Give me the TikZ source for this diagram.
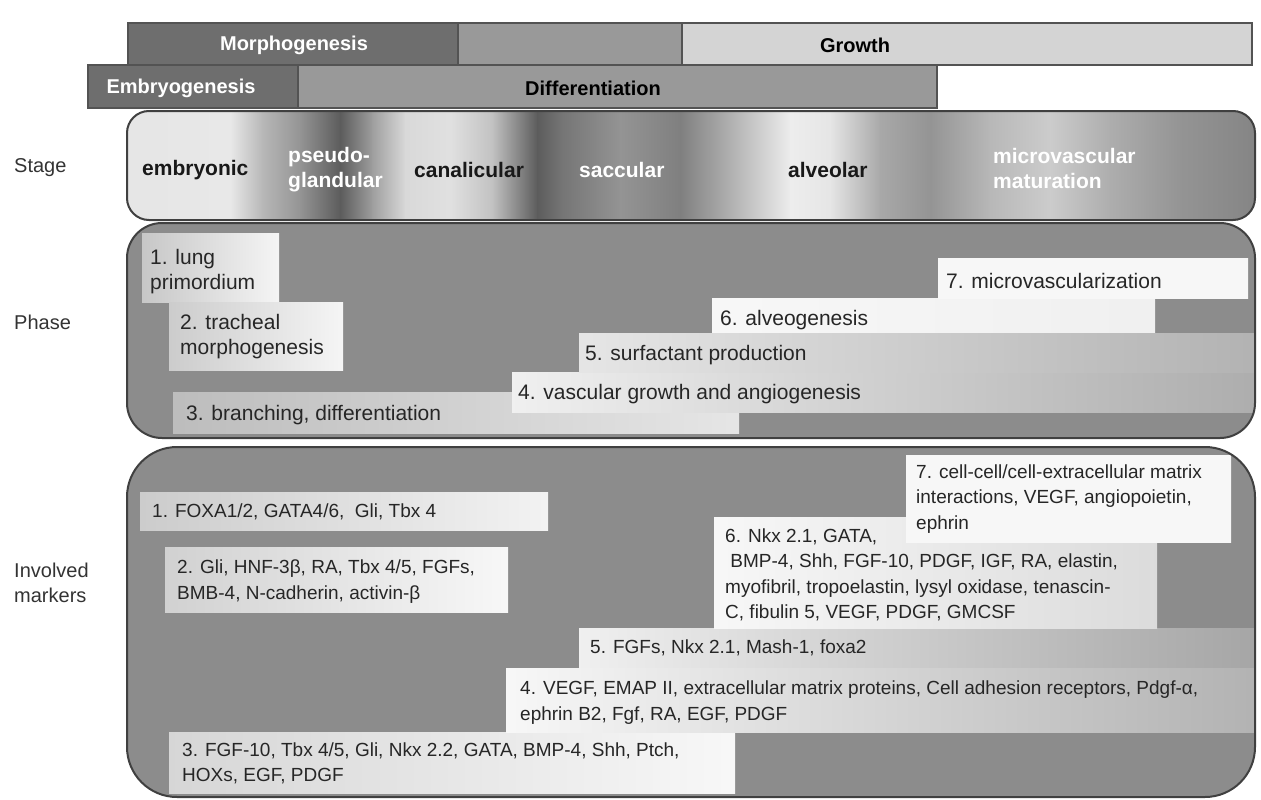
\documentclass[tikz,border=0pt]{standalone}
\usepackage{fontspec}
\setmainfont{Liberation Sans}
\definecolor{edge}{gray}{0.25}
\definecolor{panelgray}{gray}{0.55}
\definecolor{dkbar}{gray}{0.43}
\definecolor{mdbar}{gray}{0.6}
\definecolor{ltbar}{gray}{0.83}
\tikzset{
 sidelbl/.style={font=\fontsize{20}{25}\selectfont, text=black!80, anchor=west, inner sep=0, align=left},
 bartxt/.style={font=\bfseries\fontsize{20}{24}\selectfont, inner sep=0},
 stagetxt/.style={font=\bfseries\fontsize{21}{25}\selectfont, inner sep=0, anchor=west, align=left},
 phasetxt/.style={font=\fontsize{21}{25}\selectfont, inner sep=0, anchor=west, align=left, text=black!85},
 marktxt/.style={font=\fontsize{19}{25.5}\selectfont, inner sep=0, anchor=west, align=left, text=black!85},
 panel/.style={draw=edge, line width=2pt},
 barframe/.style={draw=edge!90, line width=1.2pt},
}
\begin{document}
\begin{tikzpicture}[x=1pt,y=-1pt]
\useasboundingbox (0,0) rectangle (1261,800);

% ---------- top bars ----------
\fill[dkbar] (128,23) rectangle (458,65);
\fill[mdbar] (458,23) rectangle (682,65);
\fill[ltbar] (682,23) rectangle (1252,65);
\draw[barframe] (128,23) rectangle (1252,65);
\draw[barframe] (458,23) -- (458,65);
\draw[barframe] (682,23) -- (682,65);
\fill[dkbar] (88,65) rectangle (298,108);
\fill[mdbar] (298,65) rectangle (937,108);
\draw[barframe] (88,65) rectangle (937,108);
\draw[barframe] (298,65) -- (298,108);
\node[bartxt, text=white] (morph) at (294,45) {Morphogenesis};
\node[bartxt, text=black] (growth) at (855,45) {Growth};
\node[bartxt, text=white] (embryo) at (181,88) {Embryogenesis};
\node[bartxt, text=black] (diff) at (593,88) {Differentiation};

% ---------- side labels ----------
\node[sidelbl] (lstage) at (14,168) {Stage};
\node[sidelbl] (lphase) at (14,322) {Phase};
\node[sidelbl] (lmark) at (14,583) {Involved\\markers};

% ---------- stage panel ----------
\begin{scope}
\clip[rounded corners=22] (127,111) rectangle (1255,220);
\foreach \xa/\ca/\xb/\cb in {127/90/230/91, 230/91/262/72, 262/72/300/58, 300/58/340/36, 340/36/372/62, 372/62/405/85, 405/85/450/88, 450/88/492/76, 492/76/537/36, 537/36/562/46, 562/46/620/58, 620/58/680/50, 680/50/732/70, 732/70/790/93, 790/93/830/90, 830/90/880/66, 880/66/930/58, 930/58/990/72, 990/72/1050/80, 1050/80/1110/68, 1110/68/1180/58, 1180/58/1256/52}
  \shade[left color=white!\ca!black, right color=white!\cb!black] (\xa,111) rectangle (\xb+0.8,220);
\end{scope}
\draw[panel, rounded corners=22] (127,111) rectangle (1255,220);
\node[stagetxt, text=black!90] (s1) at (142,170) {embryonic};
\node[stagetxt, text=white] (s2) at (288,170) {pseudo-\\glandular};
\node[stagetxt, text=black!90] (s3) at (414,170) {canalicular};
\node[stagetxt, text=white] (s4) at (579,170) {saccular};
\node[stagetxt, text=black!90] (s5) at (788,170) {alveolar};
\node[stagetxt, text=white] (s6) at (993,168) {microvascular\\maturation};

% ---------- phase panel ----------
\begin{scope}
\clip[rounded corners=35] (127,223) rectangle (1255,438);
\fill[panelgray] (127,223) rectangle (1255,438);
\shade[left color=white!78!black, right color=white!96!black] (142,233) rectangle (279,302);
\shade[left color=white!80!black, right color=white!96!black] (169,302) rectangle (343,370);
\shade[left color=white!74!black, middle color=white!86!black, right color=white!90!black] (173,392) rectangle (739,433);
\shade[left color=white!94!black, middle color=white!82!black, right color=white!68!black] (512,372) rectangle (1256,412);
\shade[left color=white!90!black, middle color=white!88!black, right color=white!70!black] (579,333) rectangle (1256,372);
\shade[left color=white!97!black, middle color=white!72!black, right color=white!94!black] (712,298) rectangle (1155,332);
\shade[left color=white!97!black, middle color=white!82!black, right color=white!97!black] (938,258) rectangle (1248,298);
\end{scope}
\draw[panel, rounded corners=35] (127,223) rectangle (1255,438);
\node[phasetxt] (p1) at (150,271.5) {1. lung\\primordium};
\node[phasetxt] (p2) at (180,336.5) {2. tracheal\\morphogenesis};
\node[phasetxt] (p3) at (186,415) {3. branching, differentiation};
\node[phasetxt] (p4) at (518,394) {4. vascular growth and angiogenesis};
\node[phasetxt] (p5) at (585,355) {5. surfactant production};
\node[phasetxt] (p6) at (720,320) {6. alveogenesis};
\node[phasetxt] (p7) at (946,281) {7. microvascularization};

% ---------- markers panel ----------
\begin{scope}
\clip[rounded corners=50] (127,447) rectangle (1255,797);
\fill[panelgray] (127,447) rectangle (1255,797);
\shade[left color=white!80!black, right color=white!95!black] (140,492) rectangle (548,530);
\shade[left color=white!82!black, right color=white!97!black] (165,547) rectangle (508,612);
\shade[left color=white!84!black, middle color=white!93!black, right color=white!97!black] (169,732) rectangle (735,793);
\shade[left color=white!97!black, middle color=white!85!black, right color=white!70!black] (506,668) rectangle (1256,732);
\shade[left color=white!94!black, middle color=white!85!black, right color=white!65!black] (579,628) rectangle (1256,667);
\shade[left color=white!97!black, middle color=white!91!black, right color=white!86!black] (714,517) rectangle (1157,628);
\shade[left color=white!97!black, middle color=white!80!black, right color=white!97!black] (906,455) rectangle (1231,542);
\end{scope}
\draw[panel, rounded corners=50] (127,447) rectangle (1255,797);
\node[marktxt] (m1) at (152,512) {1. FOXA1/2, GATA4/6,\ \ Gli, Tbx 4};
\node[marktxt] (m2) at (177,581.5) {2. Gli, HNF-3β, RA, Tbx 4/5, FGFs,\\BMB-4, N-cadherin, activin-β};
\node[marktxt] (m3) at (182,763.5) {3. FGF-10, Tbx 4/5, Gli, Nkx 2.2, GATA, BMP-4, Shh, Ptch,\\HOXs, EGF, PDGF};
\node[marktxt] (m4) at (520,702.5) {4. VEGF, EMAP II, extracellular matrix proteins, Cell adhesion receptors, Pdgf-α,\\ephrin B2, Fgf, RA, EGF, PDGF};
\node[marktxt] (m5) at (590,648) {5. FGFs, Nkx 2.1, Mash-1, foxa2};
\node[marktxt] (m6) at (725,575) {6. Nkx 2.1, GATA,\\\ BMP-4, Shh, FGF-10, PDGF, IGF, RA, elastin,\\myofibril, tropoelastin, lysyl oxidase, tenascin-\\C, fibulin 5, VEGF, PDGF, GMCSF};
\node[marktxt] (m7) at (916,499) {7. cell-cell/cell-extracellular matrix\\interactions, VEGF, angiopoietin,\\ephrin};
\end{tikzpicture}
\end{document}
